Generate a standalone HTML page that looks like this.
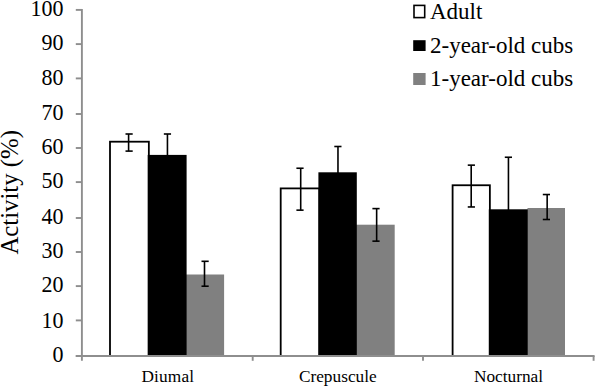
<!DOCTYPE html>
<html><head><meta charset="utf-8"><style>
html,body{margin:0;padding:0;background:#fff;width:595px;height:386px;overflow:hidden}
svg{display:block}
text{font-family:"Liberation Serif",serif;fill:#000}
.yt{font-size:22px}
.xt{font-size:17.3px}
.lg{font-size:23px}
.ttl{font-size:24.8px}
</style></head><body>
<svg width="595" height="386" viewBox="0 0 595 386">
<rect x="110.0" y="141.7" width="38.85" height="214.35" fill="#fff" stroke="#000" stroke-width="1.8"/><rect x="184.6" y="274.5" width="39.50" height="81.55" fill="#808080"/><rect x="147.7" y="154.9" width="38.90" height="201.15" fill="#000"/><rect x="280.7" y="188.4" width="38.70" height="167.65" fill="#fff" stroke="#000" stroke-width="1.8"/><rect x="354.8" y="224.7" width="39.90" height="131.35" fill="#808080"/><rect x="318.4" y="172.3" width="38.40" height="183.75" fill="#000"/><rect x="452.6" y="185.25" width="37.27" height="170.80" fill="#fff" stroke="#000" stroke-width="1.8"/><rect x="527.7" y="208.0" width="37.30" height="148.05" fill="#808080"/><rect x="488.8" y="209.3" width="40.90" height="146.75" fill="#000"/><rect x="527.7" y="208.0" width="37.30" height="148.05" fill="#808080"/>
<line x1="128.6" y1="134.0" x2="128.6" y2="151.1" stroke="#000" stroke-width="1.6"/><line x1="125.50" y1="134.0" x2="132.70" y2="134.0" stroke="#000" stroke-width="1.6"/><line x1="125.50" y1="151.1" x2="132.70" y2="151.1" stroke="#000" stroke-width="1.6"/><line x1="167.44" y1="134.0" x2="167.44" y2="175.0" stroke="#000" stroke-width="1.6"/><line x1="163.85" y1="134.0" x2="171.05" y2="134.0" stroke="#000" stroke-width="1.6"/><line x1="163.85" y1="175.0" x2="171.05" y2="175.0" stroke="#000" stroke-width="1.6"/><line x1="204.5" y1="261.3" x2="204.5" y2="286.2" stroke="#000" stroke-width="1.6"/><line x1="201.50" y1="261.3" x2="208.70" y2="261.3" stroke="#000" stroke-width="1.6"/><line x1="201.50" y1="286.2" x2="208.70" y2="286.2" stroke="#000" stroke-width="1.6"/><line x1="300.7" y1="168.24" x2="300.7" y2="210.15" stroke="#000" stroke-width="1.6"/><line x1="296.40" y1="168.24" x2="303.60" y2="168.24" stroke="#000" stroke-width="1.6"/><line x1="296.40" y1="210.15" x2="303.60" y2="210.15" stroke="#000" stroke-width="1.6"/><line x1="337.97" y1="146.5" x2="337.97" y2="199.0" stroke="#000" stroke-width="1.6"/><line x1="334.30" y1="146.5" x2="341.50" y2="146.5" stroke="#000" stroke-width="1.6"/><line x1="334.30" y1="199.0" x2="341.50" y2="199.0" stroke="#000" stroke-width="1.6"/><line x1="376.65" y1="208.6" x2="376.65" y2="241.15" stroke="#000" stroke-width="1.6"/><line x1="372.40" y1="208.6" x2="379.60" y2="208.6" stroke="#000" stroke-width="1.6"/><line x1="372.40" y1="241.15" x2="379.60" y2="241.15" stroke="#000" stroke-width="1.6"/><line x1="471.2" y1="165.15" x2="471.2" y2="206.96" stroke="#000" stroke-width="1.6"/><line x1="467.75" y1="165.15" x2="474.95" y2="165.15" stroke="#000" stroke-width="1.6"/><line x1="467.75" y1="206.96" x2="474.95" y2="206.96" stroke="#000" stroke-width="1.6"/><line x1="508.44" y1="157.25" x2="508.44" y2="262.0" stroke="#000" stroke-width="1.6"/><line x1="504.80" y1="157.25" x2="512.00" y2="157.25" stroke="#000" stroke-width="1.6"/><line x1="504.80" y1="262.0" x2="512.00" y2="262.0" stroke="#000" stroke-width="1.6"/><line x1="547.16" y1="194.53" x2="547.16" y2="219.5" stroke="#000" stroke-width="1.6"/><line x1="542.80" y1="194.53" x2="550.00" y2="194.53" stroke="#000" stroke-width="1.6"/><line x1="542.80" y1="219.5" x2="550.00" y2="219.5" stroke="#000" stroke-width="1.6"/>
<line x1="81.9" y1="9" x2="81.9" y2="360.8" stroke="#8e8e8e" stroke-width="1.9"/><line x1="75.8" y1="9.90" x2="81.9" y2="9.90" stroke="#8e8e8e" stroke-width="1.9"/><line x1="75.8" y1="44.10" x2="81.9" y2="44.10" stroke="#8e8e8e" stroke-width="1.9"/><line x1="75.8" y1="78.40" x2="81.9" y2="78.40" stroke="#8e8e8e" stroke-width="1.9"/><line x1="75.8" y1="114.00" x2="81.9" y2="114.00" stroke="#8e8e8e" stroke-width="1.9"/><line x1="75.8" y1="148.00" x2="81.9" y2="148.00" stroke="#8e8e8e" stroke-width="1.9"/><line x1="75.8" y1="182.10" x2="81.9" y2="182.10" stroke="#8e8e8e" stroke-width="1.9"/><line x1="75.8" y1="218.00" x2="81.9" y2="218.00" stroke="#8e8e8e" stroke-width="1.9"/><line x1="75.8" y1="252.00" x2="81.9" y2="252.00" stroke="#8e8e8e" stroke-width="1.9"/><line x1="75.8" y1="286.10" x2="81.9" y2="286.10" stroke="#8e8e8e" stroke-width="1.9"/><line x1="75.8" y1="320.40" x2="81.9" y2="320.40" stroke="#8e8e8e" stroke-width="1.9"/><line x1="75.8" y1="356.05" x2="81.9" y2="356.05" stroke="#8e8e8e" stroke-width="1.9"/><line x1="75.8" y1="356.05" x2="594.6" y2="356.05" stroke="#8e8e8e" stroke-width="1.9"/><line x1="252.7" y1="356.05" x2="252.7" y2="360.8" stroke="#8e8e8e" stroke-width="1.9"/><line x1="423.0" y1="356.05" x2="423.0" y2="360.8" stroke="#8e8e8e" stroke-width="1.9"/><line x1="593.6" y1="356.05" x2="593.6" y2="360.8" stroke="#8e8e8e" stroke-width="1.9"/>
<text transform="translate(63.4,15.50) scale(1,1.07)" text-anchor="end" class="yt">100</text><text transform="translate(63.4,49.90) scale(1,1.07)" text-anchor="end" class="yt">90</text><text transform="translate(63.4,85.40) scale(1,1.07)" text-anchor="end" class="yt">80</text><text transform="translate(63.4,119.73) scale(1,1.07)" text-anchor="end" class="yt">70</text><text transform="translate(63.4,153.73) scale(1,1.07)" text-anchor="end" class="yt">60</text><text transform="translate(63.4,187.73) scale(1,1.07)" text-anchor="end" class="yt">50</text><text transform="translate(63.4,223.55) scale(1,1.07)" text-anchor="end" class="yt">40</text><text transform="translate(63.4,257.55) scale(1,1.07)" text-anchor="end" class="yt">30</text><text transform="translate(63.4,291.90) scale(1,1.07)" text-anchor="end" class="yt">20</text><text transform="translate(63.4,327.60) scale(1,1.07)" text-anchor="end" class="yt">10</text><text transform="translate(63.4,361.85) scale(1,1.07)" text-anchor="end" class="yt">0</text>
<text x="167.8" y="382" text-anchor="middle" class="xt" letter-spacing="0.16">Diumal</text><text x="337.8" y="382" text-anchor="middle" class="xt">Crepuscule</text><text x="508.5" y="382" text-anchor="middle" class="xt">Nocturnal</text>
<rect x="414" y="5.4" width="10.7" height="12.2" fill="#fff" stroke="#000" stroke-width="1.6"/><rect x="413.2" y="40.2" width="12.4" height="10.8" fill="#000"/><rect x="413.2" y="73.0" width="12.4" height="12" fill="#808080"/><text x="430" y="18.7" class="lg">Adult</text><text x="430" y="52.6" class="lg">2-year-old cubs</text><text x="430" y="85.6" class="lg">1-year-old cubs</text>
<text transform="translate(17.9,192.3) rotate(-90)" text-anchor="middle" class="ttl">Activity (%)</text>
</svg>
</body></html>
